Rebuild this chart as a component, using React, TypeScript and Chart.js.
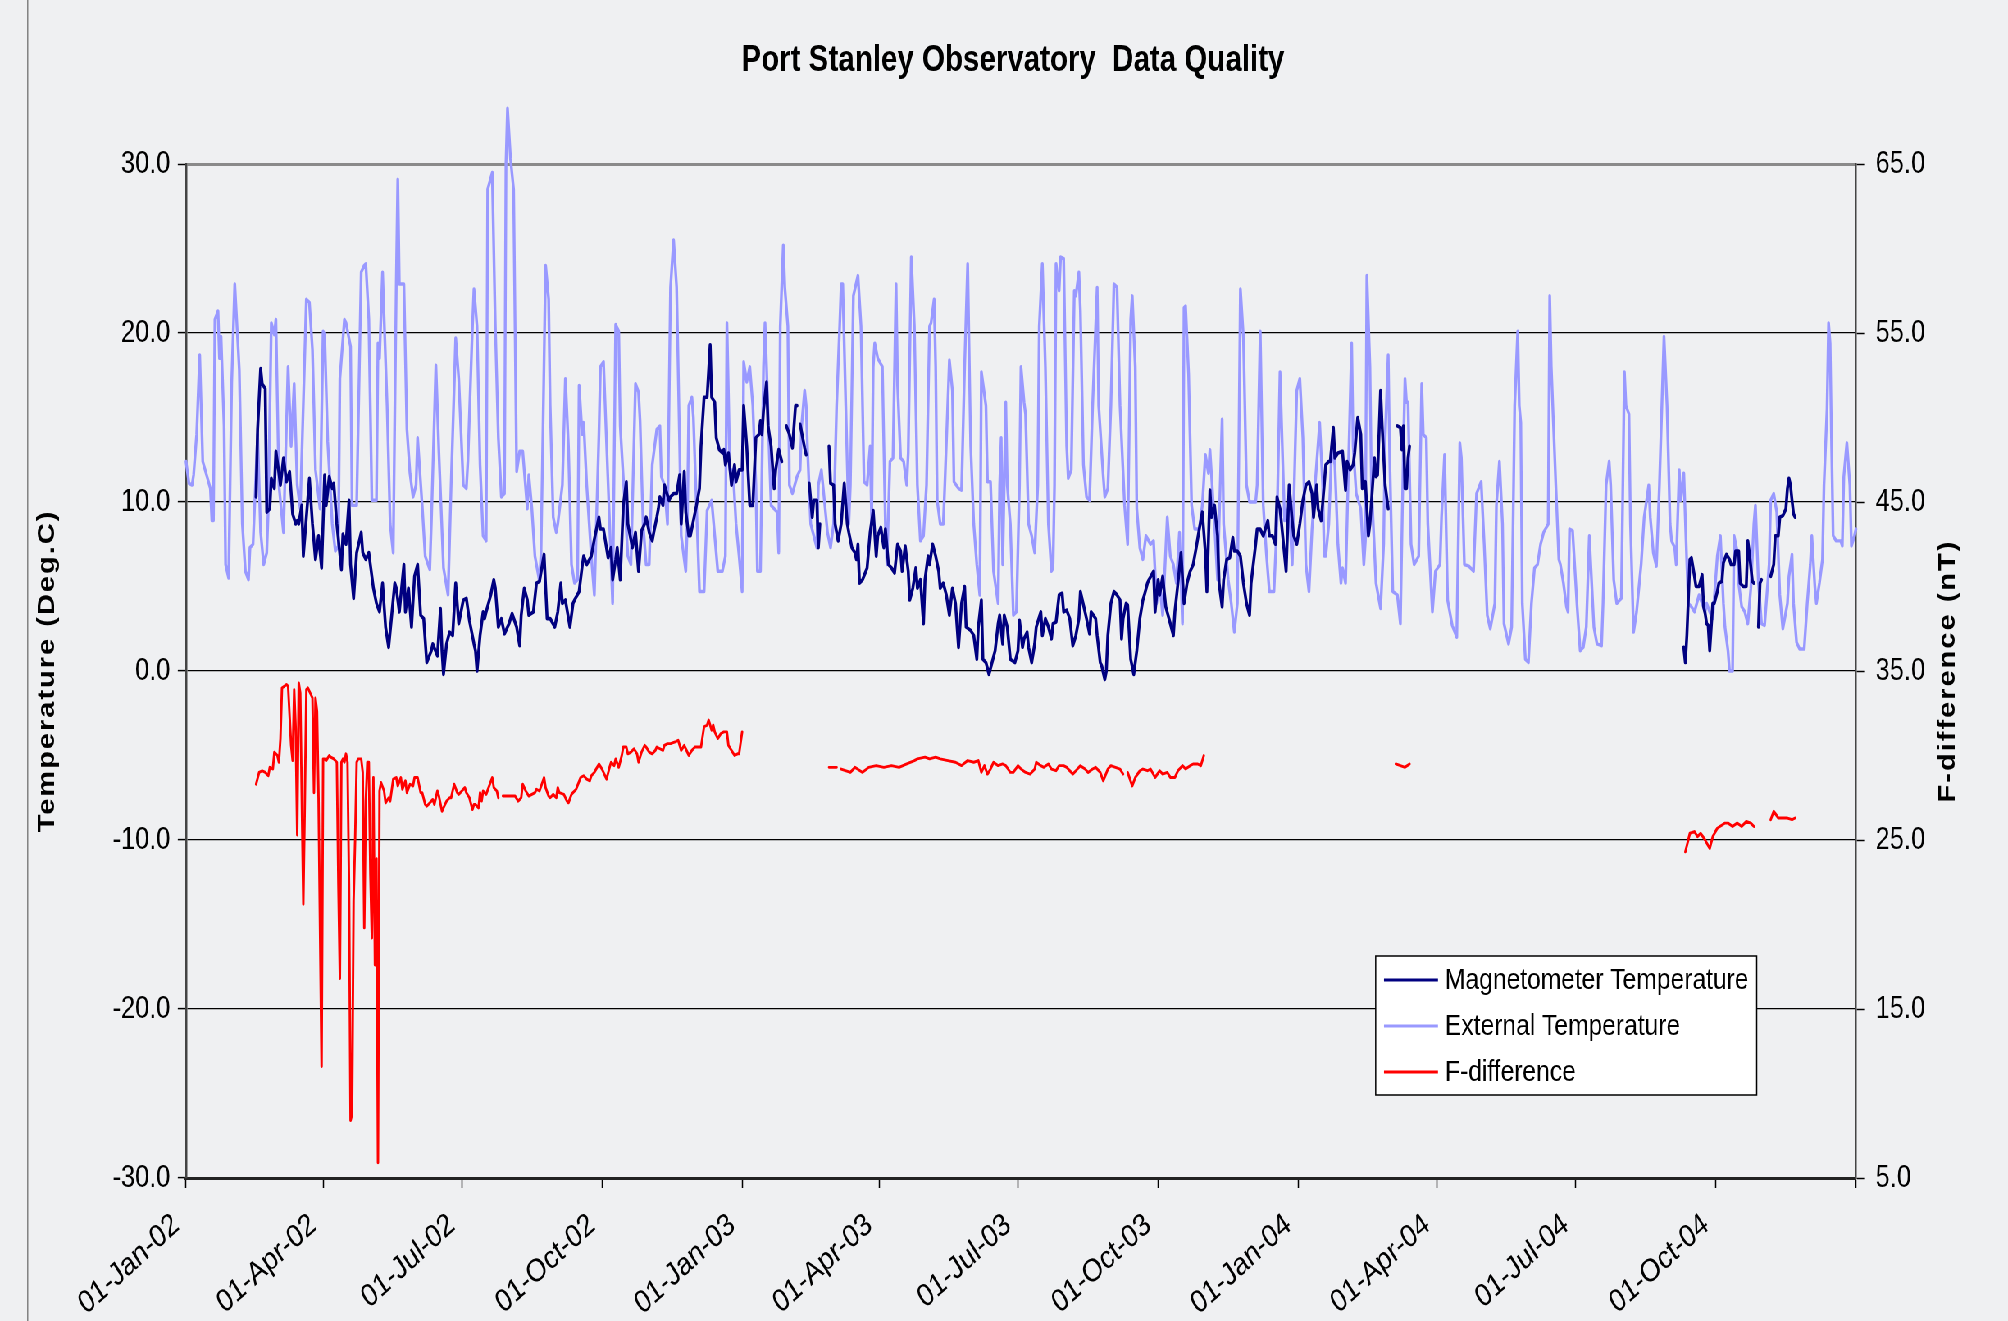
import React, { useEffect, useRef } from 'react';
import { Chart, registerables } from 'chart.js';

Chart.register(...registerables);

// ---------------- data ----------------
const TITLE = 'Port Stanley Observatory  Data Quality';
const SERIES_NAMES = ['Magnetometer Temperature', 'External Temperature', 'F-difference'];
const Y_LEFT_TITLE = 'Temperature (Deg.C)';
const Y_RIGHT_TITLE = 'F-difference (nT)';

// x = days since 01-Jan-02
const X_TICK_DAYS = [0, 90, 181, 273, 365, 455, 546, 638, 730, 821, 912, 1004, 1096];
const X_TICK_LABELS = ['01-Jan-02', '01-Apr-02', '01-Jul-02', '01-Oct-02', '01-Jan-03', '01-Apr-03', '01-Jul-03', '01-Oct-03', '01-Jan-04', '01-Apr-04', '01-Jul-04', '01-Oct-04', ''];
const Y_LEFT_TICKS = [-30, -20, -10, 0, 10, 20, 30];
const Y_RIGHT_TICKS = [5, 15, 25, 35, 45, 55, 65];

type Pt = [number, number | null];

const magnetometerTemp: Pt[] = [
  [46,10.3],[47,14.3],[49,17.9],[50,17.0],[52,16.7],[53,9.4],[55,9.6],[56,11.4],[58,10.8],[59,13.0],[61,11.7],[62,11.0],[64,12.6],[66,11.2],[68,11.8],[70,9.3],[72,8.7],[73,8.9],[74,8.7],[76,9.8],[77,6.8],[79,9.1],[81,11.4],[83,8.7],[85,6.6],[87,8.0],[89,6.1],[91,11.6],[92,9.8],[94,11.5],[96,10.8],[97,11.1],[99,8.7],
  [102,6.0],[103,8.1],[105,7.5],[107,10.1],[108,6.3],[110,4.3],[112,7.0],[115,8.2],[116,7.0],[118,6.6],[120,7.0],[123,4.9],[125,4.0],[127,3.5],[129,5.2],[131,2.6],[133,1.4],[135,3.3],[137,5.2],[138,4.9],[140,3.5],[143,6.3],[144,3.5],[146,4.9],[148,2.6],[150,5.6],[152,6.3],[154,3.3],[156,3.1],[158,0.5],[161,1.2],[162,1.6],[165,0.9],[167,3.7],[168,1.2],[169,-0.2],[171,1.6],[173,2.3],[175,2.1],[177,5.2],[179,2.8],[182,4.2],[184,4.3],[186,3.0],[189,1.6],[190,1.2],[191,0.0],[193,2.1],[195,3.5],[196,3.1],[197,3.5],
  [200,4.5],[202,5.4],[203,4.9],[205,2.6],[207,3.1],[209,2.2],[212,2.8],[214,3.4],[217,2.6],[219,1.5],[220,3.3],[222,4.9],[224,4.2],[225,3.3],[228,3.5],[230,5.2],[232,5.3],[235,6.9],[237,3.1],[239,3.1],[242,2.6],[244,3.5],[246,5.2],[247,4.0],[249,4.2],[252,2.6],[254,4.0],[255,4.2],[258,4.7],[260,6.2],[261,6.8],[263,6.3],[266,6.8],[268,7.8],[271,9.1],[272,8.4],[274,8.4],[277,6.7],[279,7.3],[280,5.4],[282,6.6],[283,7.3],[285,5.4],[287,9.8],[289,11.2],[290,8.7],[293,7.3],[295,8.2],[297,5.9],[299,8.3],
  [301,8.7],[302,9.1],[304,8.2],[306,7.7],[307,8.2],[309,9.1],[310,9.6],[311,10.3],[313,9.8],[314,11.0],[317,10.1],[318,10.3],[320,10.5],[322,10.5],[324,11.6],[325,8.7],[327,11.8],[328,9.4],[330,8.0],[331,8.0],[333,8.9],[335,9.8],[337,10.8],[338,13.3],[340,16.2],[342,16.2],[344,19.3],[345,16.2],[347,15.9],[348,13.8],[350,13.1],[352,12.9],[353,13.1],[354,12.2],[356,12.9],[358,11.0],[360,12.2],[361,11.2],[363,11.9],[365,11.9],[366,15.7],[368,13.3],[370,9.8],[372,9.8],[374,13.8],[376,14.0],[377,14.8],[378,14.0],[379,15.4],[381,17.1],[382,14.5],[384,13.3],[386,10.8],[387,11.9],[389,13.1],[391,12.4],[392,null],[394,14.5],[396,14.0],[398,13.2],
  [400,15.7],[401,15.7],[402,null],[403,14.6],[406,13.2],[407,12.8],[408,null],[409,11.1],[411,9.1],[412,10.1],[414,10.1],[415,7.3],[416,8.7],[418,null],[422,13.3],[423,11.1],[425,11.0],[426,8.7],[428,7.7],[430,8.7],[432,11.1],[434,8.7],[435,8.2],[437,7.3],[439,7.0],[440,6.6],[441,7.5],[442,5.2],[444,5.4],[447,6.1],[449,8.2],[451,9.5],[453,6.8],[454,8.0],[456,8.5],[458,7.3],[459,8.4],[461,6.3],[463,6.1],[465,5.8],[467,7.5],[469,7.1],[470,5.9],[472,7.4],[474,5.9],[475,4.2],[477,4.9],[479,6.1],[480,4.9],[482,5.4],[484,2.8],[485,5.4],[487,6.8],[488,6.3],[490,7.5],[492,6.8],[494,5.9],[495,4.9],[497,5.2],[499,4.5],
  [501,3.3],[503,4.9],[505,4.0],[507,1.4],[509,4.0],[511,5.0],[512,2.6],[515,2.4],[517,2.1],[519,0.7],[520,2.6],[522,4.2],[523,0.7],[525,0.5],[527,-0.2],[529,0.5],[531,1.2],[533,2.8],[534,3.3],[536,1.6],[537,3.3],[539,2.6],[541,0.7],[544,0.5],[546,1.2],[547,3.0],[549,1.4],[550,1.9],[552,2.3],[553,1.4],[555,0.5],[557,1.6],[558,2.6],[561,3.5],[562,2.1],[564,3.1],[566,2.6],[568,1.9],[569,2.8],[571,2.9],[573,4.5],[575,4.6],[576,3.5],[578,3.6],[580,3.1],[582,1.5],[584,2.1],[586,3.1],[587,4.7],[589,3.9],[591,3.1],[593,2.2],[594,3.5],[597,3.1],[598,2.1],
  [600,0.5],[601,0.3],[603,-0.5],[604,0.0],[605,2.1],[607,4.0],[609,4.7],[611,4.5],[613,4.2],[614,1.9],[615,3.1],[617,4.0],[618,3.9],[620,0.7],[622,-0.2],[624,1.2],[626,3.1],[628,4.2],[629,4.5],[631,5.2],[632,5.4],[635,5.9],[636,3.5],[638,5.4],[639,4.5],[641,5.6],[643,3.8],[646,2.8],[648,2.1],[649,3.5],[651,5.2],[653,7.0],[655,4.0],[657,5.2],[659,5.9],[661,6.3],[663,7.3],[665,8.4],[667,9.4],[669,7.0],[670,4.7],[672,10.7],[673,9.1],[675,9.8],[677,8.0],[678,5.2],[680,3.8],[681,5.4],[683,6.6],[685,6.7],[687,7.9],[688,7.1],[690,7.1],[692,6.8],[694,5.2],[696,4.0],[698,3.3],[699,5.2],
  [702,7.5],[703,8.4],[705,8.4],[707,8.0],[710,8.9],[711,8.0],[713,8.0],[715,7.5],[716,10.3],[718,9.6],[719,8.7],[722,5.9],[724,11.0],[726,8.9],[727,8.0],[729,7.5],[731,8.7],[733,10.1],[735,11.0],[737,11.2],[739,10.5],[740,9.1],[742,11.0],[743,9.6],[745,8.9],[747,11.0],[748,12.2],[750,12.4],[751,12.4],[753,14.4],[754,12.6],[756,12.9],[759,13.0],[761,10.7],[762,12.4],[764,11.9],[766,12.2],[767,12.9],[769,15.0],[771,14.0],[772,10.8],[774,11.2],[776,8.0],[777,8.7],[780,12.6],[781,11.5],[782,11.6],[784,16.6],[785,14.5],[787,11.0],[789,9.6],[791,null],[795,14.5],[797,14.4],[798,13.1],[799,14.5],[800,10.8],[801,10.8],[802,12.6],[803,13.3],[804,null],
  [983,1.4],[984,0.5],[985,2.1],[987,6.6],[988,6.7],[990,5.6],[991,5.0],[993,5.0],[995,5.7],[996,3.8],[997,3.4],[998,2.8],[999,2.7],[1000,1.2],[1002,4.0],[1003,4.0],[1005,4.7],[1006,5.2],[1008,5.3],[1009,6.4],[1011,6.9],[1013,6.6],[1014,6.3],[1016,6.3],[1017,7.1],[1019,7.1],[1020,5.2],[1022,5.0],[1024,5.0],[1025,7.7],[1026,7.0],[1028,5.3],[1029,5.2],[1030,null],[1032,2.6],[1033,5.2],[1034,5.4],[1035,null],[1040,5.6],[1042,6.3],[1043,8.0],[1045,8.0],[1046,9.1],[1048,9.2],[1050,9.6],[1051,10.8],[1052,11.4],[1053,11.0],[1054,10.1],[1055,9.3],[1056,9.1],
];

const externalTemp: Pt[] = [
  [0,12.4],[2,11.1],[4,11.0],[5,11.6],[7,14.0],[9,18.7],[11,12.4],[16,10.8],[17,8.9],[18,8.9],[19,20.8],[21,21.3],[22,18.5],[23,19.8],[25,14.5],[26,6.3],[28,5.5],[30,17.1],[32,22.9],[35,17.8],[37,8.7],[39,5.9],[41,5.4],[42,7.3],[44,7.5],[47,14.0],[49,8.2],[51,6.3],[53,7.0],[54,9.6],[56,20.6],[58,19.9],[59,20.8],[61,11.0],[64,8.2],[67,18.0],[69,13.3],[71,17.0],[73,11.0],[75,9.6],[79,22.0],[81,21.8],[83,19.0],[85,11.9],[88,9.6],[90,20.1],[91,19.9],[93,13.6],[96,8.7],[98,7.1],
  [100,7.4],[101,17.3],[104,20.8],[105,20.6],[108,19.2],[109,9.8],[112,9.8],[115,23.6],[117,24.0],[118,24.1],[120,20.8],[122,10.1],[125,10.1],[126,19.4],[127,18.5],[129,23.6],[132,15.7],[134,8.7],[136,7.0],[138,22.9],[139,29.1],[140,22.9],[143,22.9],[145,14.3],[147,11.7],[149,10.3],[151,11.0],[152,13.8],[155,9.8],[157,6.8],[160,6.0],[161,8.7],[164,18.1],[166,12.9],[169,6.1],[172,4.5],[174,11.0],[177,19.7],[179,17.3],[182,11.0],[184,10.8],[185,12.4],[188,20.4],[189,22.6],[191,20.4],[193,12.2],[195,8.0],[197,7.7],[198,28.5],
  [201,29.5],[203,20.4],[205,13.8],[207,10.3],[209,10.5],[210,30.0],[211,33.3],[213,30.3],[215,28.5],[217,11.8],[219,13.0],[221,13.0],[224,9.6],[225,11.6],[227,9.6],[229,6.8],[232,5.3],[233,7.0],[236,24.0],[238,22.0],[239,15.7],[241,9.1],[243,8.2],[244,8.7],[247,11.0],[249,17.3],[251,13.3],[253,6.3],[255,5.2],[257,5.4],[258,16.9],[260,14.0],[261,14.7],[263,11.0],[266,6.8],[268,4.5],[271,14.0],[272,18.0],[274,18.3],[280,4.0],[282,20.5],[284,20.1],[285,14.5],[290,6.8],[292,6.3],[295,17.0],[297,16.5],[298,14.8],
  [300,8.7],[302,6.3],[304,6.3],[306,12.2],[309,14.3],[311,14.5],[312,11.5],[314,11.0],[316,8.7],[318,22.7],[320,25.5],[322,22.7],[324,13.3],[325,8.0],[328,5.9],[329,8.7],[330,15.7],[332,16.2],[333,15.0],[335,9.8],[337,4.7],[340,4.7],[342,9.5],[345,10.1],[347,8.0],[349,5.9],[352,5.9],[354,6.8],[355,20.6],[357,11.9],[359,11.9],[361,8.7],[363,6.8],[365,4.7],[366,18.3],[368,17.1],[370,18.0],[372,15.7],[374,11.0],[375,5.9],[377,5.9],[379,18.0],[380,20.6],[381,18.0],[383,12.4],[384,9.8],[386,9.6],[388,9.4],[389,7.0],[390,20.4],[392,25.2],[393,22.7],[395,20.4],[396,11.0],[398,10.5],
  [401,11.5],[403,11.9],[404,14.5],[406,16.6],[407,15.7],[408,12.9],[410,8.7],[412,8.0],[414,7.3],[415,11.0],[417,11.9],[418,11.0],[421,8.2],[423,7.3],[425,8.7],[427,15.7],[429,20.4],[430,22.9],[431,22.9],[433,15.7],[435,8.7],[436,11.0],[438,22.2],[441,23.4],[443,20.4],[445,11.2],[447,11.0],[449,13.3],[450,8.7],[451,18.0],[452,19.4],[454,18.5],[457,18.0],[458,13.3],[459,8.7],[460,6.3],[462,12.4],[464,12.6],[466,22.9],[467,16.9],[469,12.6],[471,12.4],[473,11.0],[474,12.9],[476,24.5],[478,20.4],[480,11.0],[482,7.7],[484,8.0],[486,11.0],[488,20.4],[489,20.6],[491,22.0],[492,18.0],[493,10.1],[495,8.7],[497,8.7],[498,11.0],
  [501,18.4],[503,16.6],[504,11.2],[507,10.8],[509,10.7],[511,18.0],[513,24.1],[515,13.3],[517,8.7],[519,6.3],[521,4.5],[522,17.7],[525,15.7],[526,11.2],[528,11.2],[530,5.9],[533,4.0],[534,11.0],[535,13.8],[536,6.3],[538,15.9],[539,11.0],[541,8.7],[543,3.3],[545,3.5],[547,11.0],[548,18.0],[550,15.9],[551,15.2],[553,8.7],[555,8.0],[557,7.0],[559,11.0],[560,20.4],[562,24.1],[564,18.0],[566,8.7],[568,5.9],[569,6.1],[570,11.0],[571,24.1],[573,22.5],[574,24.5],[576,24.4],[578,13.3],[579,11.4],[581,11.9],[583,22.5],[584,22.2],[586,23.6],[587,21.3],[589,12.2],[591,10.3],[593,10.1],[595,15.7],[598,22.7],[599,15.7],
  [602,11.5],[603,10.3],[605,10.8],[607,15.7],[609,22.9],[611,22.7],[613,15.7],[616,9.8],[618,7.5],[620,20.8],[621,22.2],[623,18.0],[624,9.6],[626,7.3],[628,6.6],[630,8.0],[633,7.5],[635,7.7],[637,4.0],[639,5.2],[641,3.3],[644,9.1],[646,6.8],[648,6.3],[650,5.2],[652,8.2],[654,2.8],[655,21.5],[656,21.6],[658,17.6],[660,9.8],[662,8.4],[665,8.4],[667,9.8],[669,12.8],[671,11.7],[672,13.1],[675,8.7],[677,5.4],[678,8.7],[680,14.9],[681,8.7],[684,5.4],[686,4.0],[688,2.3],[690,4.0],[692,22.6],[694,19.7],[696,11.0],[698,10.0],
  [702,10.0],[703,11.0],[705,20.1],[707,9.8],[709,7.0],[711,4.7],[714,4.7],[716,8.7],[718,17.7],[719,14.7],[721,8.9],[724,9.8],[726,6.3],[728,13.3],[729,16.6],[731,17.3],[733,13.8],[735,6.3],[737,4.7],[739,8.4],[741,11.0],[744,14.7],[746,11.0],[747,6.8],[748,6.8],[750,8.7],[752,13.3],[754,12.2],[756,7.5],[758,5.2],[759,6.1],[761,5.2],[763,12.4],[765,19.4],[766,13.3],[768,10.5],[771,9.6],[773,6.3],[774,7.7],[775,23.4],[777,18.0],[778,11.0],[781,5.2],[783,4.2],[784,3.7],[786,7.5],[787,13.8],[789,18.7],[790,12.6],[792,4.7],[795,4.5],[797,2.8],[799,13.3],
  [800,17.3],[801,15.9],[802,15.9],[804,7.5],[806,6.3],[809,6.8],[811,17.0],[812,14.0],[814,13.8],[815,8.7],[818,3.5],[820,5.9],[823,6.3],[824,9.1],[826,12.8],[828,4.2],[831,2.7],[834,2.0],[836,13.5],[837,12.6],[839,6.3],[842,6.2],[845,5.9],[847,10.5],[850,11.2],[852,7.5],[854,3.3],[856,2.5],[859,4.0],[860,9.8],[862,12.4],[864,8.7],[865,2.8],[868,1.6],[870,2.6],[872,15.7],[874,20.1],[875,15.7],[876,14.7],[877,4.0],[879,0.7],[881,0.5],[883,4.0],[885,6.1],[887,6.3],[889,7.5],[891,8.2],[894,8.7],[895,22.2],[896,18.0],[899,11.0],
  [901,6.6],[902,6.3],[904,5.2],[906,3.8],[907,3.5],[908,8.4],[910,8.3],[913,3.8],[915,1.2],[917,1.4],[919,2.6],[921,8.0],[924,2.6],[926,1.6],[929,1.5],[930,4.0],[932,11.0],[934,12.4],[935,11.0],[937,5.4],[939,4.0],[942,4.3],[944,17.7],[945,15.7],[947,15.2],[948,8.7],[950,2.3],[952,3.5],[955,6.3],[957,9.1],[960,11.0],[961,9.1],[963,7.0],[965,6.2],[967,11.0],[970,19.8],[972,15.7],[974,8.7],[975,7.7],[977,7.3],[978,6.3],[980,11.9],[981,10.1],[983,11.7],[985,6.3],[986,4.0],[988,3.8],[990,3.5],[993,4.5],[995,4.0],[997,3.5],[998,4.0],
  [1000,3.5],[1002,3.1],[1005,6.8],[1007,8.0],[1009,4.0],[1010,2.6],[1012,1.2],[1013,0.0],[1015,0.0],[1016,8.0],[1018,7.1],[1019,5.2],[1021,3.8],[1023,3.5],[1025,2.8],[1027,4.9],[1029,8.7],[1030,9.8],[1032,5.2],[1034,2.8],[1036,2.7],[1039,6.3],[1040,10.1],[1042,10.5],[1044,9.4],[1046,4.5],[1048,2.5],[1051,4.0],[1052,5.6],[1054,6.9],[1055,4.0],[1057,1.7],[1059,1.3],[1062,1.3],[1064,4.0],[1066,6.3],[1067,8.0],[1069,5.0],[1070,4.0],[1072,5.2],[1074,6.6],[1075,11.0],[1077,15.5],[1078,20.6],[1079,19.4],[1080,13.3],[1081,8.0],[1083,7.7],[1086,7.7],[1087,7.4],[1088,11.5],[1090,13.5],[1092,11.0],[1093,7.4],[1095,8.0],[1096,8.4],
];

const fDifference: Pt[] = [
  [46,28.3],[48,29.0],[50,29.1],[52,29.0],[54,28.8],[55,29.3],[57,29.2],[58,30.2],[60,30.0],[61,29.6],[62,31.0],[63,34.0],[66,34.2],[67,34.1],[69,30.6],[70,29.7],[71,33.9],[72,31.6],[73,25.3],[74,34.3],[75,33.7],[77,21.2],[78,27.3],[79,33.9],[80,34.0],[82,33.6],[83,33.4],[84,27.8],[85,33.4],[86,32.6],[87,27.5],[89,11.6],[90,29.8],[91,29.8],[92,29.7],[94,30.0],[95,29.9],[97,29.8],[99,29.6],
  [100,22.4],[101,16.8],[102,29.6],[103,29.8],[104,29.6],[105,30.1],[106,29.6],[107,22.4],[108,8.4],[109,8.8],[110,21.4],[111,25.0],[112,29.6],[113,29.8],[115,29.8],[116,29.0],[117,19.8],[118,27.3],[119,29.6],[120,29.6],[121,23.0],[122,19.2],[123,28.7],[124,17.6],[125,23.9],[126,5.9],[127,27.9],[128,28.4],[130,27.9],[131,27.2],[133,27.5],[134,27.3],[136,28.6],[138,28.7],[139,28.2],[141,28.7],[142,28.0],[144,28.5],[145,27.8],[147,28.3],[149,28.2],[150,28.7],[152,28.7],[154,27.8],[155,27.8],[157,27.1],[158,27.0],[160,27.2],[162,27.4],[163,27.1],[165,27.9],[166,27.6],[168,26.7],[169,26.9],[171,27.3],[173,27.5],[174,27.5],[176,28.3],[178,27.8],[179,27.7],[181,27.9],[183,28.1],[184,27.8],[186,27.5],[188,26.8],[189,27.1],[190,27.1],[192,26.9],[193,27.8],[194,27.3],[195,27.9],[197,27.7],[199,28.2],
  [201,28.7],[202,28.1],[204,27.9],[205,27.5],[206,null],[208,27.6],[209,27.6],[211,27.6],[214,27.6],[216,27.6],[218,27.3],[220,27.5],[221,28.3],[223,27.9],[225,27.6],[227,27.7],[229,27.8],[230,28.0],[232,27.9],[235,28.7],[236,28.1],[238,27.6],[239,27.5],[241,27.7],[243,27.5],[244,28.1],[245,27.8],[248,27.7],[250,27.3],[251,27.2],[253,27.7],[254,27.8],[256,28.0],[259,28.7],[261,28.8],[263,28.6],[265,28.5],[266,28.8],[268,29.0],[271,29.5],[273,29.2],[274,29.0],[276,28.6],[278,29.3],[279,29.6],[281,29.4],[282,29.8],[284,29.3],[286,30.0],[287,30.5],[289,30.5],[290,30.1],[292,30.2],[294,30.4],[296,30.1],[297,29.6],[299,30.2],
  [301,30.6],[302,30.5],[304,30.2],[306,30.1],[308,30.3],[309,30.5],[311,30.4],[313,30.3],[314,30.6],[316,30.7],[318,30.7],[321,30.8],[323,30.9],[325,30.3],[327,30.6],[328,30.4],[330,30.0],[332,30.3],[334,30.5],[338,30.5],[340,31.7],[342,31.8],[343,32.1],[345,31.5],[346,31.8],[347,31.4],[349,31.0],[351,31.3],[353,31.4],[355,31.4],[356,30.6],[358,30.3],[360,30.0],[362,30.1],[363,30.1],[365,31.4],[366,null],
  [422,29.3],[427,29.3],[428,null],[430,29.2],[436,29.0],[439,29.3],[444,29.0],[448,29.3],[453,29.4],[458,29.3],[463,29.4],[468,29.3],[473,29.5],[478,29.7],[480,29.8],[485,29.9],[488,29.8],[492,29.9],[495,29.8],
  [500,29.7],[505,29.6],[509,29.4],[513,29.7],[517,29.6],[520,29.7],[522,29.0],[524,29.4],[526,28.9],[528,29.2],[530,29.6],[533,29.4],[536,29.5],[538,29.4],[541,29.0],[543,29.0],[546,29.4],[548,29.2],[551,29.0],[554,28.9],[557,29.2],[558,29.6],[561,29.4],[563,29.3],[566,29.5],[568,29.2],[571,29.1],[573,29.4],[576,29.4],[578,29.3],[582,28.9],[584,29.1],[587,29.4],[590,29.2],[592,29.0],[595,29.2],[597,29.3],
  [600,29.0],[602,28.5],[605,29.2],[607,29.4],[610,29.3],[613,29.2],[615,28.9],[616,null],[618,29.0],[621,28.2],[623,28.7],[626,29.1],[628,29.2],[631,29.1],[633,29.2],[636,28.7],[639,29.1],[641,28.9],[644,29.0],[646,28.7],[649,28.7],[651,29.1],[654,29.4],[656,29.2],[659,29.4],[661,29.5],[664,29.5],[666,29.4],[668,30.0],[669,null],
  [794,29.5],[797,29.4],[800,29.3],[803,29.5],[804,null],
  [984,24.3],[987,25.4],[990,25.5],[992,25.2],[994,25.4],[997,25.0],[1000,24.5],[1002,25.2],[1005,25.7],[1010,26.0],[1012,26.0],[1015,25.8],[1018,26.0],[1021,25.8],[1024,26.1],[1027,26.0],[1029,25.8],[1030,null],[1040,26.2],[1042,26.7],[1045,26.3],[1048,26.3],[1051,26.3],[1054,26.2],[1056,26.3],
];

// ---------------- styling ----------------
const BG = '#eff0f2';
const COLORS = ['#000080', '#9999ff', '#ff0000'];
const FONT = "'Liberation Sans', Arial, sans-serif";
const W_INT = 2449; // internal canvas width, displayed condensed to 2008 px
const H = 1321;
const SX = 2008 / W_INT;
const PLOT_LEFT = 186 / SX;
const PLOT_RIGHT = 1856 / SX;
const PLOT_TOP = 164;
const PLOT_BOTTOM = 1178;

const toXY = (arr: Pt[]) => arr.map(([x, y]) => ({ x, y }));

const decorPlugin = {
  id: 'decor',
  beforeDraw(chart: any) {
    const ctx = chart.ctx;
    ctx.save();
    ctx.fillStyle = BG;
    ctx.fillRect(0, 0, chart.width, chart.height);
    ctx.restore();
  },
  afterDraw(chart: any) {
    const ctx: CanvasRenderingContext2D = chart.ctx;
    const area = chart.chartArea;
    ctx.save();
    // outer frame line at left
    ctx.strokeStyle = '#808080';
    ctx.lineWidth = 1.5;
    ctx.beginPath();
    ctx.moveTo(27.7 / SX, 0);
    ctx.lineTo(27.7 / SX, H);
    ctx.stroke();

    // title
    ctx.fillStyle = '#000';
    ctx.font = `bold 36px ${FONT}`;
    ctx.textAlign = 'center';
    ctx.textBaseline = 'alphabetic';
    ctx.fillText(TITLE, 1013 / SX, 71);

    // axis titles
    const midY = (area.top + area.bottom) / 2;
    ctx.font = `bold 29px ${FONT}`;
    (ctx as any).letterSpacing = '2px';
    ctx.textBaseline = 'middle';
    ctx.save();
    ctx.translate(47.5 / SX, midY);
    ctx.rotate(-Math.PI / 2);
    ctx.fillText(Y_LEFT_TITLE, 0, 0);
    ctx.restore();
    ctx.save();
    ctx.translate(1948.5 / SX, midY);
    ctx.rotate(-Math.PI / 2);
    ctx.fillText(Y_RIGHT_TITLE, 0, 0);
    ctx.restore();
    (ctx as any).letterSpacing = '0px';

    // legend
    const lx0 = 1375.7 / SX, lx1 = 1756.7 / SX, ly0 = 956, ly1 = 1095;
    ctx.fillStyle = '#ffffff';
    ctx.fillRect(lx0, ly0, lx1 - lx0, ly1 - ly0);
    ctx.strokeStyle = '#000';
    ctx.lineWidth = 1.5;
    ctx.strokeRect(lx0, ly0, lx1 - lx0, ly1 - ly0);
    const rows = [980, 1026, 1072];
    ctx.font = `30px ${FONT}`;
    ctx.textAlign = 'left';
    ctx.textBaseline = 'middle';
    SERIES_NAMES.forEach((name, i) => {
      ctx.strokeStyle = COLORS[i];
      ctx.lineWidth = 3;
      ctx.beginPath();
      ctx.moveTo(1384 / SX, rows[i]);
      ctx.lineTo(1438 / SX, rows[i]);
      ctx.stroke();
      ctx.fillStyle = '#000';
      ctx.fillText(name, 1445 / SX, rows[i] + 1);
    });
    ctx.restore();
  },
};

export default function App() {
  const ref = useRef<HTMLCanvasElement | null>(null);

  useEffect(() => {
    document.body.style.margin = '0';
    document.body.style.background = BG;
    document.documentElement.style.overflow = 'hidden';
    if (!ref.current) return;

    const chart = new Chart(ref.current, {
      type: 'line',
      data: {
        datasets: [
          {
            label: SERIES_NAMES[0],
            data: toXY(magnetometerTemp),
            yAxisID: 'y',
            borderColor: COLORS[0],
            borderWidth: 3.6,
            pointRadius: 0,
            tension: 0,
            spanGaps: false,
            borderJoinStyle: 'round',
            borderCapStyle: 'round',
            clip: false,
          },
          {
            label: SERIES_NAMES[1],
            data: toXY(externalTemp),
            yAxisID: 'y',
            borderColor: COLORS[1],
            borderWidth: 3.4,
            pointRadius: 0,
            tension: 0,
            spanGaps: false,
            borderJoinStyle: 'round',
            borderCapStyle: 'round',
            clip: false,
          },
          {
            label: SERIES_NAMES[2],
            data: toXY(fDifference),
            yAxisID: 'y2',
            borderColor: COLORS[2],
            borderWidth: 2.9,
            pointRadius: 0,
            tension: 0,
            spanGaps: false,
            borderJoinStyle: 'round',
            borderCapStyle: 'round',
            clip: false,
          },
        ],
      } as any,
      options: {
        responsive: false,
        animation: false,
        events: [],
        layout: { padding: { top: PLOT_TOP, left: 0, right: 0, bottom: 0 } },
        plugins: {
          legend: { display: false },
          title: { display: false },
          tooltip: { enabled: false },
        },
        scales: {
          x: {
            type: 'linear',
            min: 0,
            max: 1096,
            afterBuildTicks: (scale: any) => {
              scale.ticks = X_TICK_DAYS.map((v) => ({ value: v }));
            },
            afterFit: (scale: any) => {
              scale.height = H - PLOT_BOTTOM;
            },
            grid: {
              drawOnChartArea: false,
              drawTicks: true,
              tickLength: 10,
              tickColor: '#000',
              tickWidth: 1.5,
            },
            border: { display: true, color: '#222', width: 3 },
            ticks: {
              autoSkip: false,
              maxRotation: 37,
              minRotation: 37,
              padding: 18,
              labelOffset: -12,
              color: '#000',
              font: { family: FONT, size: 32 },
              callback: (v: any) => {
                const i = X_TICK_DAYS.indexOf(Number(v));
                return i >= 0 ? X_TICK_LABELS[i] : '';
              },
            },
          },
          y: {
            type: 'linear',
            position: 'left',
            min: -30,
            max: 30,
            afterBuildTicks: (scale: any) => {
              scale.ticks = Y_LEFT_TICKS.map((v) => ({ value: v }));
            },
            afterFit: (scale: any) => {
              scale.width = PLOT_LEFT;
            },
            grid: {
              color: (c: any) => (c.tick && c.tick.value === 30 ? '#8a8a8a' : '#000'),
              lineWidth: (c: any) => (c.tick && c.tick.value === 30 ? 3 : 1.2),
              tickLength: 10,
              tickColor: '#000',
              tickWidth: 1.5,
            },
            border: { display: true, color: '#444', width: 2.5 },
            ticks: {
              padding: 9,
              color: '#000',
              font: { family: FONT, size: 31 },
              callback: (v: any) => Number(v).toFixed(1),
            },
          },
          y2: {
            type: 'linear',
            position: 'right',
            min: 5,
            max: 65,
            afterBuildTicks: (scale: any) => {
              scale.ticks = Y_RIGHT_TICKS.map((v) => ({ value: v }));
            },
            afterFit: (scale: any) => {
              scale.width = W_INT - PLOT_RIGHT;
            },
            grid: {
              drawOnChartArea: false,
              tickLength: 10,
              tickColor: '#000',
              tickWidth: 1.5,
            },
            border: { display: true, color: '#444', width: 2.5 },
            ticks: {
              padding: 14,
              color: '#000',
              font: { family: FONT, size: 31 },
              callback: (v: any) => Number(v).toFixed(1),
            },
          },
        },
      } as any,
      plugins: [decorPlugin],
    });

    return () => {
      chart.destroy();
    };
  }, []);

  return (
    <div
      style={{
        position: 'fixed',
        left: 0,
        top: 0,
        width: W_INT,
        height: H,
        transform: `scaleX(${SX})`,
        transformOrigin: '0 0',
        background: BG,
        overflow: 'hidden',
      }}
    >
      <canvas ref={ref} width={W_INT} height={H} style={{ display: 'block', width: W_INT, height: H }} />
    </div>
  );
}
